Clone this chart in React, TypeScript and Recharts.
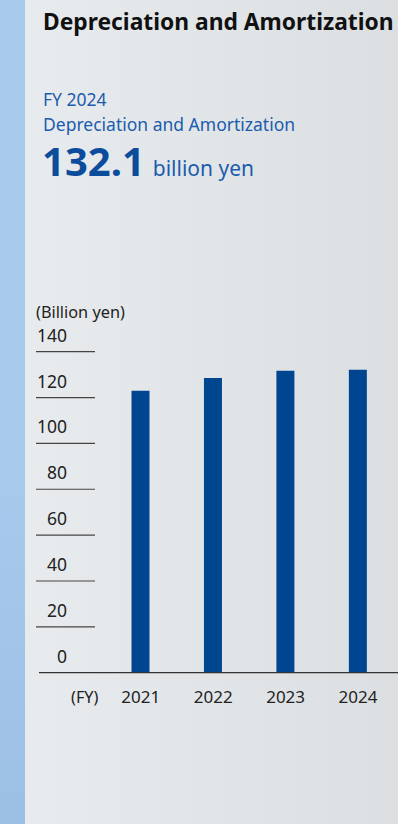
import React from 'react';
import { BarChart, Bar, XAxis, YAxis } from 'recharts';

const years = ['2021', '2022', '2023', '2024'];
const amounts = [123.0, 128.5, 131.7, 132.1];
const yTicks = [0, 20, 40, 60, 80, 100, 120, 140];

const data = years.map((year, i) => ({ year, value: amounts[i] }));

const FONT = '"Noto Sans", "Open Sans", sans-serif';
const BLUE = '#00458f';
const TEXT_BLUE = '#1b5cad';

const YTick = (props: any) => {
  const { y, payload } = props;
  return (
    <g>
      {payload.value !== 0 && (
        <line x1={36} x2={95} y1={y} y2={y} stroke="#444" strokeWidth={1.2} />
      )}
      <text
        x={67}
        y={y - 17}
        textAnchor="end"
        dominantBaseline="central"
        fontSize={17.5}
        fill="#222"
        fontFamily={FONT}
      >
        {payload.value}
      </text>
    </g>
  );
};

const XTick = (props: any) => {
  const { x, y, payload } = props;
  return (
    <text
      x={x}
      y={y + 16}
      textAnchor="middle"
      dominantBaseline="central"
      fontSize={17}
      fill="#222"
      fontFamily={FONT}
    >
      {payload.value}
    </text>
  );
};

export default function App() {
  return (
    <div
      style={{
        position: 'fixed',
        left: 0,
        top: 0,
        width: 398,
        height: 824,
        overflow: 'hidden',
        fontFamily: FONT,
        background: 'linear-gradient(to right, #e9ecef 0%, #dcdfe2 100%)',
      }}
    >
      <div
        style={{
          position: 'absolute',
          left: 0,
          top: 0,
          width: 25,
          height: 824,
          background: 'linear-gradient(to bottom, #a6c9ec 0%, #a6c9ec 60%, #9cbfe4 100%)',
        }}
      />
      <div style={{ position: 'absolute', left: 43, top: 6, fontSize: 22.8, lineHeight: '32px', fontWeight: 700, color: '#111', whiteSpace: 'nowrap' }}>
        Depreciation and Amortization
      </div>
      <div style={{ position: 'absolute', left: 43, top: 87, fontSize: 17.5, color: TEXT_BLUE, lineHeight: '25px', whiteSpace: 'nowrap' }}>
        FY 2024
        <br />
        Depreciation and Amortization
      </div>
      <div style={{ position: 'absolute', left: 42, top: 136, color: '#0c4c9c', whiteSpace: 'nowrap', lineHeight: '50px' }}>
        <span style={{ fontSize: 40, fontWeight: 700 }}>132.1</span>
        <span style={{ fontSize: 21, marginLeft: 8, color: TEXT_BLUE }}>billion yen</span>
      </div>
      <div style={{ position: 'absolute', left: 36, top: 301, fontSize: 16.3, color: '#222' }}>(Billion yen)</div>
      <div style={{ position: 'absolute', left: 71, top: 686, fontSize: 16.3, color: '#222' }}>(FY)</div>
      <div style={{ position: 'absolute', left: 0, top: 0 }}>
        <BarChart
          width={398}
          height={824}
          data={data}
          margin={{ top: 351.7, right: 0, bottom: 111.3, left: 0 }}
        >
          <YAxis
            width={39}
            domain={[0, 140]}
            ticks={yTicks}
            axisLine={false}
            tickLine={false}
            tick={<YTick />}
          />
          <XAxis
            dataKey="year"
            height={40}
            padding={{ left: 65.5, right: 3.7 }}
            axisLine={{ stroke: '#333', strokeWidth: 1.2 }}
            tickLine={false}
            tick={<XTick />}
          />
          <Bar dataKey="value" fill={BLUE} barSize={18} isAnimationActive={false} />
        </BarChart>
      </div>
    </div>
  );
}
